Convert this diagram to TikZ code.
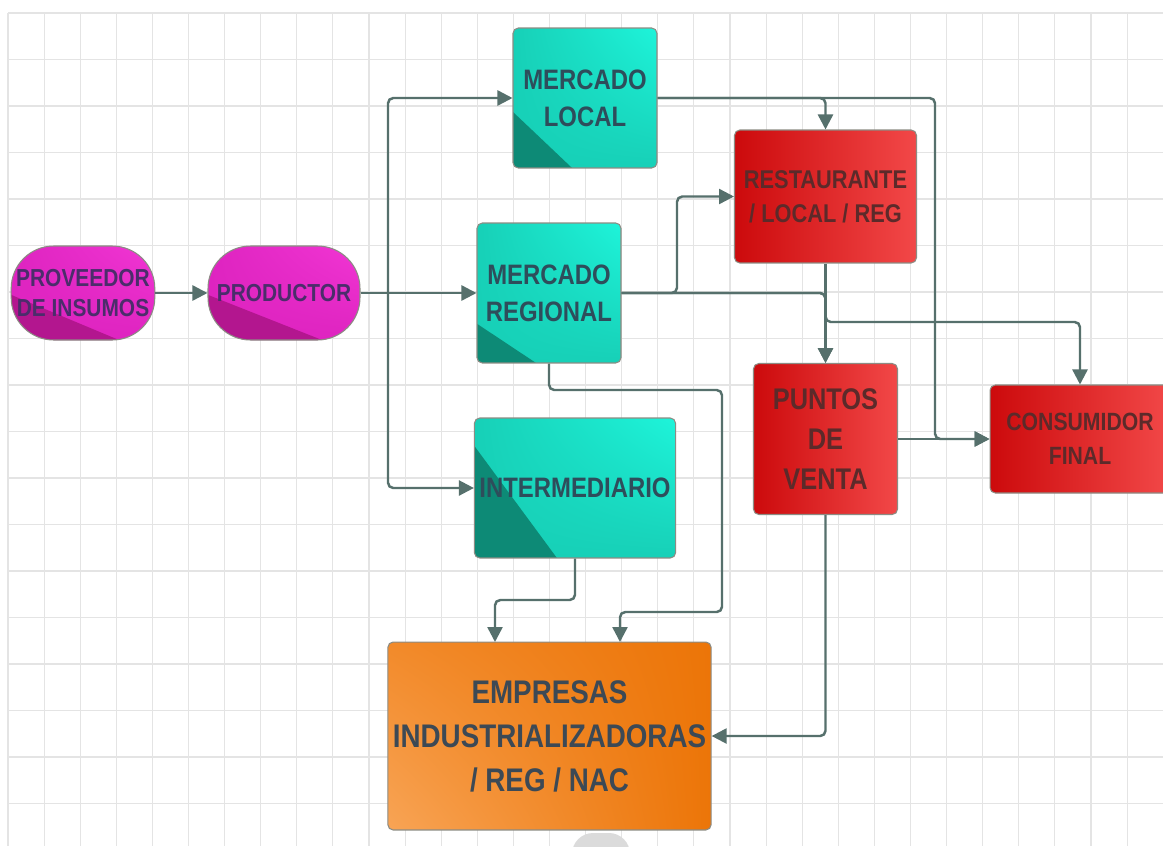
\documentclass[tikz,border=0pt]{standalone}
\usepackage{fontspec}
\usetikzlibrary{arrows.meta,calc,shadings}
\newfontfamily\diagfont[FakeStretch=0.85]{Liberation Sans}
\definecolor{pinklight}{HTML}{F236D4}
\definecolor{pinkmid}{HTML}{DE24C0}
\definecolor{pinkdark}{HTML}{B3168F}
\definecolor{pinktext}{HTML}{4B2D6B}
\definecolor{teallight}{HTML}{1EF4DA}
\definecolor{tealmid}{HTML}{17D0B7}
\definecolor{tealdark}{HTML}{0D8A76}
\definecolor{tealtext}{HTML}{2E4D5B}
\definecolor{redleft}{HTML}{CC0A0C}
\definecolor{redmid}{HTML}{F01212}
\definecolor{redright}{HTML}{F24848}
\definecolor{redtext}{HTML}{5C2A2A}
\definecolor{orangelight}{HTML}{F8A455}
\definecolor{orangemid}{HTML}{F28A2A}
\definecolor{orangedark}{HTML}{EC7508}
\definecolor{orangetext}{HTML}{3C4955}
\definecolor{edge}{HTML}{8C8C84}
\definecolor{wire}{HTML}{56706C}
\definecolor{gridgray}{HTML}{E4E4E4}
\newcommand\lowcorner[3]{\fill[#1,sharp corners] ($(path picture bounding box.south west)!#2!(path picture bounding box.north west)$) -- (path picture bounding box.south west) -- ($(path picture bounding box.south west)!#3!(path picture bounding box.south east)$) -- cycle;}
\tikzset{cell/.style={draw=edge,line width=0.6pt,rounded corners=3pt,align=center,inner sep=1mm}, pinkbox/.style={cell,rounded corners=0.85cm,minimum height=1.88cm,text=pinktext,font=\diagfont\bfseries\fontsize{14}{17}\selectfont,upper left=pinkmid,lower left=pinkmid,upper right=pinklight,lower right=pinkmid,path picture={\lowcorner{pinkdark}{0.48}{0.75}}}, tealbox/.style={cell,minimum height=2.8cm,text=tealtext,font=\diagfont\bfseries\fontsize{16}{21}\selectfont,upper left=tealmid,lower left=tealmid,upper right=teallight,lower right=tealmid,path picture={\lowcorner{tealdark}{#1}{0.41}}}, tealbox/.default=0.4, redbox/.style={cell,text=redtext,font=\diagfont\bfseries\fontsize{14.6}{19.5}\selectfont,left color=redleft,middle color=redmid,right color=redright}, orangebox/.style={cell,text=orangetext,font=\diagfont\bfseries\fontsize{18.6}{25}\selectfont,upper left=orangemid,lower left=orangelight,upper right=orangedark,lower right=orangedark}, flow/.style={-{Triangle[length=0.3cm,width=0.3cm]},line width=1.4pt,draw=wire,rounded corners=3pt}, gridline/.style={draw=gridgray,line width=0.6pt}}

\begin{document}
\begin{tikzpicture}[x=0.02cm,y=-0.02cm]
\fill[white] (0,0) rectangle (1163,846);
\useasboundingbox (0,0) rectangle (1163,846);
\foreach \gx in {0,...,32} \draw[gridline] (8+36.1*\gx,13) -- (8+36.1*\gx,846);
\foreach \gy in {0,...,17} \draw[gridline] (8,13+46.5*\gy) -- (1163,13+46.5*\gy);
\fill[black!14,rounded corners=12pt] (572,833) rectangle (630,880);
\node[pinkbox,minimum width=2.86cm] (prov) at (83,293) {PROVEEDOR\\DE INSUMOS};
\node[pinkbox,minimum width=3.04cm] (prod) at (284,293) {PRODUCTOR};
\node[tealbox,minimum width=2.88cm] (local) at (585,98) {MERCADO\\LOCAL};
\node[tealbox=0.28,minimum width=2.88cm] (reg) at (549,293) {MERCADO\\REGIONAL};
\node[tealbox=0.8,minimum width=3.96cm] (inter) at (575,488) {INTERMEDIARIO};
\node[redbox,minimum width=3.64cm,minimum height=2.66cm] (rest) at (825.5,196.5) {RESTAURANTE\\/ LOCAL / REG};
\node[redbox,minimum width=2.88cm,minimum height=3.02cm,font=\diagfont\bfseries\fontsize{17}{23}\selectfont] (punt) at (825.5,439) {PUNTOS\\DE\\VENTA};
\node[redbox,minimum width=3.6cm,minimum height=2.16cm,font=\diagfont\bfseries\fontsize{14.2}{19.3}\selectfont] (cons) at (1080,439) {CONSUMIDOR\\FINAL};
\node[orangebox,minimum width=6.46cm,minimum height=3.76cm] (emp) at (549.5,736) {EMPRESAS\\INDUSTRIALIZADORAS\\/ REG / NAC};
\coordinate (split) at (388,293);
\coordinate (lbend) at (935,98);
\coordinate (rbend) at (677,293);
\coordinate (cbend) at (825.5,322);
\coordinate (eL) at (495,642);
\coordinate (eR) at (620,642);
\draw[flow] (prov) -- (prod);\draw[flow] (prod) -- (reg);
\draw[flow] (split) |- (local);\draw[flow] (split) |- (inter);
\draw[flow] (local) -| (rest);\draw[flow] (local) -- (lbend) |- (cons);
\draw[flow] (reg) -- (rbend) |- (rest);\draw[flow] (reg) -| (punt);
\draw[flow] (rest) -- (punt);\draw[flow] (reg) -| (cbend) -| (cons);
\draw[flow] (punt) -- (cons);
\draw[flow] (reg.south) |- (722,390) |- (620,612) -- (eR);
\draw[flow] (inter.south) |- (495,600) -- (eL);
\draw[flow] (punt) |- (emp);
\end{tikzpicture}
\end{document}
